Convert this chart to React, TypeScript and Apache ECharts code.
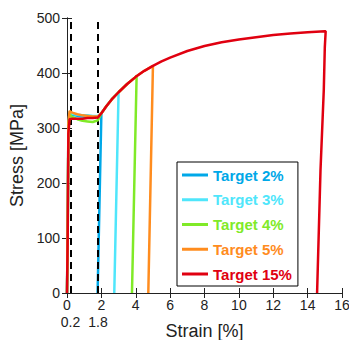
import React, { useEffect, useRef } from "react";
import * as echarts from "echarts";

// Common plateau strain points (%)
const plateauStrain = [0, 0.04, 0.08, 0.15, 0.3, 0.6, 0.9, 1.2, 1.5, 1.8];
// Plateau stress (MPa) per test
const plateau2 = [0, 120, 300, 326, 324, 322, 321, 320, 320, 321];
const plateau3 = [0, 110, 305, 330, 326, 324, 323, 323, 322, 322];
const plateau4 = [0, 90, 295, 325, 320, 316, 313, 312, 311, 314];
const plateau5 = [0, 130, 310, 331, 328, 325, 323, 322, 321, 321];
const plateau15 = [0, 100, 290, 316, 317, 317, 317, 318, 318, 319];

// Common hardening curve
const hardStrain = [2.0, 2.3, 2.6, 3.0, 3.5, 4.0, 4.5, 5.0, 5.5, 6.0, 7.0, 8.0, 9.0, 10.0, 11.0, 12.0, 13.0, 14.0, 15.0];
const hardStress = [327, 340, 352, 365, 380, 393, 404, 413, 421, 428, 440, 449, 456, 461, 465, 469, 472, 474, 476];

// Unloading branches [strain, stress]
const unload2Strain = [1.98, 1.78];
const unload2Stress = [328, 0];
const unload3Strain = [3.02, 2.75];
const unload3Stress = [365, 0];
const unload4Strain = [4.05, 3.78];
const unload4Stress = [395, 0];
const unload5Strain = [5.02, 4.73];
const unload5Stress = [414, 0];
const unload15Strain = [15.05, 15.0, 14.94, 14.75, 14.55];
const unload15Stress = [476, 447, 369, 224, 0];

const targets = [2, 3, 4, 5, 15];
const names = ["Target 2%", "Target 3%", "Target 4%", "Target 5%", "Target 15%"];
const colors = ["#00a8e8", "#4fe6fb", "#80ea28", "#ff8c1e", "#e00010"];
const plateaus = [plateau2, plateau3, plateau4, plateau5, plateau15];
const unloadStrains = [unload2Strain, unload3Strain, unload4Strain, unload5Strain, unload15Strain];
const unloadStresses = [unload2Stress, unload3Stress, unload4Stress, unload5Stress, unload15Stress];

const extraXLabels = [0.2, 1.8];
const dashedAt = [0.2, 1.8];

function buildSeriesData(i: number): number[][] {
  const pts: number[][] = [];
  plateauStrain.forEach((s, k) => pts.push([s, plateaus[i][k]]));
  hardStrain.forEach((s, k) => {
    if (s <= targets[i] + 1e-9 && s > 1.8) pts.push([s, hardStress[k]]);
  });
  unloadStrains[i].forEach((s, k) => pts.push([s, unloadStresses[i][k]]));
  return pts;
}

export default function App() {
  const ref = useRef<HTMLDivElement>(null);
  useEffect(() => {
    if (!ref.current) return;
    const chart = echarts.init(ref.current, undefined, { renderer: "svg" });
    const font = "'Liberation Sans', Arial, sans-serif";
    const axisColor = "#222";
    const series: any[] = names.map((n, i) => ({
      name: n,
      type: "line",
      data: buildSeriesData(i),
      symbol: "none",
      smooth: false,
      lineStyle: { color: colors[i], width: 2.5 },
      itemStyle: { color: colors[i] },
      z: 3 + i,
    }));
    series.push({
      type: "line",
      data: [],
      symbol: "none",
      silent: true,
      markLine: {
        symbol: "none",
        silent: true,
        label: { show: false },
        lineStyle: { color: "#000", type: [7, 5], width: 2 },
        data: dashedAt.map((v) => ({ xAxis: v })),
      },
      z: 10,
    });
    chart.setOption({
      animation: false,
      grid: { left: 67, right: 7, top: 18, bottom: 47, containLabel: false, outerBoundsMode: "none" },
      textStyle: { fontFamily: font },
      xAxis: [
        {
          type: "value",
          min: 0,
          max: 16,
          interval: 2,
          position: "bottom",
          name: "Strain [%]",
          nameLocation: "middle",
          nameGap: 29,
          nameTextStyle: { fontSize: 18, color: axisColor, fontFamily: font },
          axisLine: { lineStyle: { color: axisColor, width: 1 } },
          axisTick: { inside: true, length: 5, lineStyle: { color: axisColor } },
          axisLabel: { fontSize: 14, color: axisColor, margin: 5, fontFamily: font },
          splitLine: { show: false },
        },
        {
          type: "value",
          min: 0,
          max: 16,
          interval: 2,
          position: "top",
          axisLine: { show: true, lineStyle: { color: axisColor, width: 1 } },
          axisTick: { inside: true, length: 5, lineStyle: { color: axisColor } },
          axisLabel: { show: false },
          splitLine: { show: false },
        },
        {
          type: "value",
          min: 0,
          max: 16,
          position: "bottom",
          offset: 17,
          axisLine: { show: false },
          axisTick: { show: false },
          axisLabel: {
            fontSize: 14,
            color: axisColor,
            margin: 5,
            fontFamily: font,
            customValues: extraXLabels,
            formatter: (v: number) => v.toFixed(1),
          },
          splitLine: { show: false },
        },
      ],
      yAxis: [
        {
          type: "value",
          min: 0,
          max: 500,
          interval: 100,
          position: "left",
          name: "Stress [MPa]",
          nameLocation: "middle",
          nameGap: 40,
          nameTextStyle: { fontSize: 18, color: axisColor, fontFamily: font },
          axisLine: { show: true, lineStyle: { color: axisColor, width: 1 } },
          axisTick: { inside: true, length: 5, lineStyle: { color: axisColor } },
          axisLabel: { fontSize: 14, color: axisColor, margin: 7, fontFamily: font },
          splitLine: { show: false },
        },
        {
          type: "value",
          min: 0,
          max: 500,
          interval: 100,
          position: "right",
          axisLine: { show: true, lineStyle: { color: axisColor, width: 1 } },
          axisTick: { inside: true, length: 5, lineStyle: { color: axisColor } },
          axisLabel: { show: false },
          splitLine: { show: false },
        },
      ],
      legend: {
        orient: "vertical",
        left: 177,
        top: 162,
        padding: [5.5, 6, 4.5, 5],
        itemGap: 9.75,
        itemWidth: 26,
        itemHeight: 3,
        icon: "rect",
        borderColor: "#000",
        borderWidth: 1,
        backgroundColor: "#fff",
        borderRadius: 0,
        data: names.map((n, i) => ({
          name: n,
          textStyle: { color: colors[i] },
        })),
        textStyle: { fontSize: 15, lineHeight: 15, fontWeight: "bold", fontFamily: font },
        selectedMode: false,
      },
      series,
    });
    return () => chart.dispose();
  }, []);
  return (
    <div
      ref={ref}
      style={{ position: "fixed", left: 0, top: 0, width: 349, height: 340, background: "#fff" }}
    />
  );
}
